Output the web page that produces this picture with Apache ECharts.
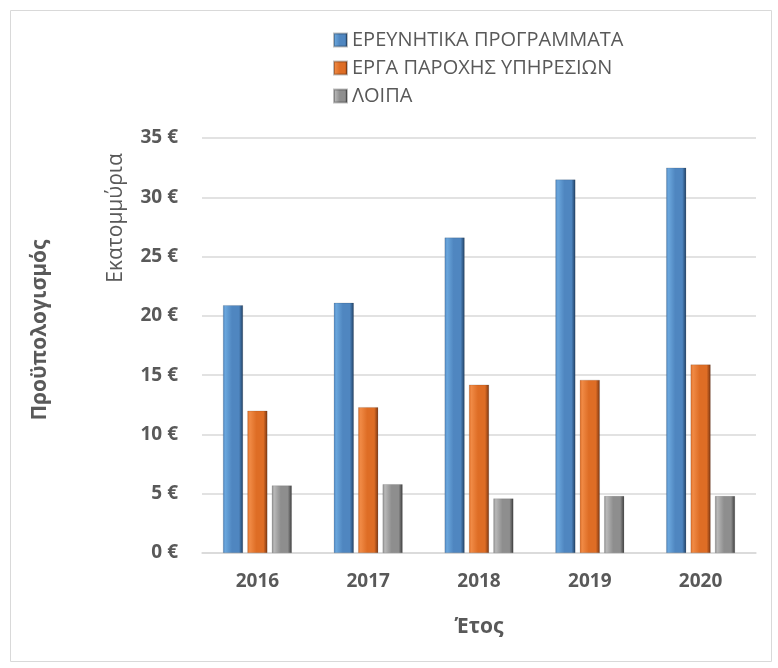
<!DOCTYPE html>
<html><head><meta charset="utf-8">
<script src="https://cdn.jsdelivr.net/npm/echarts@6/dist/echarts.min.js"></script>
<style>html,body{margin:0;padding:0;background:#fff}#c{width:778px;height:668px}</style>
</head><body><div id="c"></div>
<script>
const years = ['2016','2017','2018','2019','2020'];
const research = [20.9, 21.1, 26.6, 31.5, 32.5];
const services = [12.0, 12.3, 14.2, 14.6, 15.9];
const other = [5.7, 5.8, 4.6, 4.8, 4.8];
const seriesNames = ['ΕΡΕΥΝΗΤΙΚΑ ΠΡΟΓΡΑΜΜΑΤΑ', 'ΕΡΓΑ ΠΑΡΟΧΗΣ ΥΠΗΡΕΣΙΩΝ', 'ΛΟΙΠΑ'];
const yTicks = [0, 5, 10, 15, 20, 25, 30, 35];

const FONT = '"Open Sans", "Noto Sans", sans-serif';
function grad(light, mid, dark) {
  return new echarts.graphic.LinearGradient(0, 0, 1, 0, [
    {offset: 0, color: mid}, {offset: 0.12, color: light}, {offset: 0.45, color: mid},
    {offset: 0.8, color: mid}, {offset: 1, color: dark}
  ]);
}
const colors = [
  grad('#6aa6dc', '#4f86c0', '#1f3f63'),
  grad('#f08a45', '#de6d25', '#7a3510'),
  grad('#b8b8b8', '#8e8e8e', '#3d3d3d')
];
const legendColors = ['#4f86c0', '#de6d25', '#8e8e8e'];
const chart = echarts.init(document.getElementById('c'));
const datasets = [research, services, other];
chart.setOption({
  animation: false,
  textStyle: {fontFamily: FONT},
  color: legendColors,
  legend: {
    orient: 'vertical', left: 328, top: 25, itemGap: 8,
    itemWidth: 13, itemHeight: 13, icon: 'rect',
    textStyle: {fontSize: 20, color: '#595959', fontFamily: FONT},
    data: seriesNames
  },
  grid: {left: 202, right: 22, top: 138, bottom: 115},
  xAxis: {
    type: 'category', data: years,
    axisLine: {lineStyle: {color: '#d9d9d9', width: 1.5}},
    axisTick: {show: false},
    axisLabel: {fontSize: 19, fontWeight: 'bold', color: '#595959', margin: 19},
    name: 'Έτος', nameLocation: 'middle', nameGap: 64,
    nameTextStyle: {fontSize: 21, fontWeight: 'bold', color: '#595959'}
  },
  yAxis: {
    type: 'value', min: yTicks[0], max: yTicks[yTicks.length - 1], interval: 5,
    axisLine: {show: false}, axisTick: {show: false},
    splitLine: {lineStyle: {color: '#d9d9d9', width: 1.5}},
    axisLabel: {fontSize: 19, fontWeight: 'bold', color: '#595959', margin: 24,
      formatter: v => v + ' €'}
  },
  graphic: [
    {type: 'rect', left: 8, top: 8, shape: {width: 761, height: 651},
     style: {fill: 'none', stroke: '#d9d9d9', lineWidth: 1}},
    {type: 'text', x: 40, y: 330, rotation: Math.PI / 2,
     style: {text: 'Προϋπολογισμός', font: 'bold 21px ' + FONT, fill: '#595959',
       align: 'center', verticalAlign: 'middle'}},
    {type: 'text', x: 116, y: 218, rotation: Math.PI / 2,
     style: {text: 'Εκατομμύρια', font: '21px ' + FONT, fill: '#595959',
       align: 'center', verticalAlign: 'middle'}}
  ],
  series: datasets.map((d, i) => ({
    name: seriesNames[i], type: 'bar', data: d,
    barWidth: 20, barGap: '22%',
    itemStyle: {color: colors[i], borderColor: 'rgba(0,0,0,0.25)', borderWidth: 0.5}
  }))
});
</script></body></html>
